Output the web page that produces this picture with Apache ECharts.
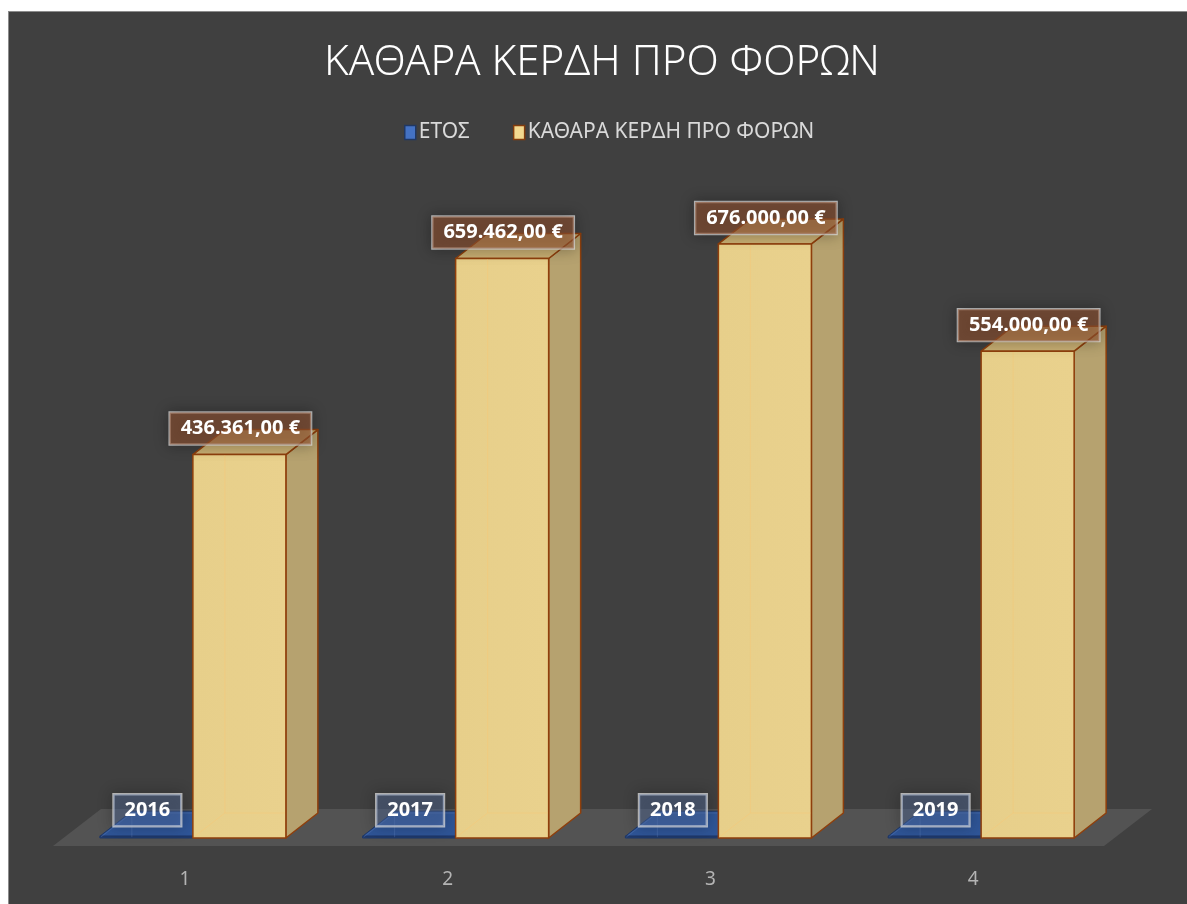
<!DOCTYPE html>
<html>
<head>
<meta charset="utf-8">
<script src="https://cdn.jsdelivr.net/npm/echarts@6/dist/echarts.min.js"></script>
<style>
  html, body { margin: 0; padding: 0; background: #ffffff; }
  #chart {
    position: absolute; left: 8px; top: 11px; width: 1179px; height: 893px;
    box-sizing: border-box; border-left: 1px solid #8c8c8c; border-top: 1px solid #8c8c8c;
    background: #404040;
  }
</style>
</head>
<body>
<div id="chart"></div>
<script>
// Chart data
const titleText = 'ΚΑΘΑΡΑ ΚΕΡΔΗ ΠΡΟ ΦΟΡΩΝ';
const seriesNames = ['ΕΤΟΣ', 'ΚΑΘΑΡΑ ΚΕΡΔΗ ΠΡΟ ΦΟΡΩΝ'];
const categories = ['1', '2', '3', '4'];
const years = [2016, 2017, 2018, 2019];
const profits = [436361, 659462, 676000, 554000];
const valueMin = 0;
const valueMax = 800000;

// Greek-style number format: 436.361,00 €
function euro(v) {
  const parts = v.toFixed(2).split('.');
  const intPart = parts[0].replace(/\B(?=(\d{3})+(?!\d))/g, '.');
  return intPart + ',' + parts[1] + ' €';
}

const FONT = '"Noto Sans", "Open Sans", sans-serif';
const DX = 32, DY = -25;          // bar depth offset (pseudo-3D)
const FLOOR_DX = 48, FLOOR_DY = -37;

const styles = [
  { // years: flat blue plates
    front: '#203c72', side: '#1d3564', top: '#2f5597', edge: '#1f3868',
    hidden: 'rgba(120,150,210,0.25)',
    labelBg: 'rgba(95,125,185,0.35)', text: String
  },
  { // profits: gold columns
    front: { type: 'linear', x: 0, y: 0, x2: 1, y2: 0,
             colorStops: [{ offset: 0, color: '#e7cf8a' }, { offset: 1, color: '#e9d18d' }] },
    side: '#b6a26f', top: '#c7ae72', edge: '#8f3f0c',
    hidden: 'rgba(245,200,120,0.55)',
    labelBg: 'rgba(150,85,50,0.58)', text: euro
  }
];

function makeRender(si) {
  const st = styles[si];
  const side = si === 0 ? -1 : 0;
  return function (params, api) {
    const idx = api.value(0);
    const val = api.value(1);
    const base = api.coord([idx, 0]);
    const topPt = api.coord([idx, val]);
    const band = api.size([1, 0])[0];
    const w = band * 0.354;
    const x0 = base[0] + side * w;
    const x1 = x0 + w;
    const yb = base[1];
    const yt = Math.min(topPt[1], yb - 1.8);
    const lw = si === 0 ? 1 : 1.5;
    const children = [
      { type: 'polygon', shape: { points: [[x1, yt], [x1 + DX, yt + DY], [x1 + DX, yb + DY], [x1, yb]] },
        style: { fill: st.side, stroke: st.edge, lineWidth: lw, lineJoin: 'round' } },
      { type: 'polygon', shape: { points: [[x0, yt], [x0 + DX, yt + DY], [x1 + DX, yt + DY], [x1, yt]] },
        style: { fill: st.top, stroke: st.edge, lineWidth: lw, lineJoin: 'round' } },
      { type: 'polygon', shape: { points: [[x0, yt], [x1, yt], [x1, yb], [x0, yb]] },
        style: { fill: st.front, stroke: st.edge, lineWidth: lw, lineJoin: 'round' } },
      // edges seen through the slightly translucent faces
      { type: 'polyline', shape: { points: [[x0 + 1, yb - 1], [x0 + DX, yb + DY], [x1 - 1, yb + DY]] },
        style: { fill: null, stroke: st.hidden, lineWidth: 1 } },
      { type: 'line', shape: { x1: x0 + DX, y1: yb + DY, x2: x0 + DX, y2: yt + 1 },
        style: { stroke: st.hidden, lineWidth: 1 } },
      { type: 'text', z2: 100,
        x: x0 + w / 2 + 1, y: yt - 26,
        style: {
          text: st.text(val), fill: '#ffffff', font: 'bold 20px ' + FONT,
          align: 'center', verticalAlign: 'middle',
          backgroundColor: st.labelBg, borderColor: 'rgba(230,230,230,0.75)', borderWidth: 1.2,
          padding: [6, 11, 6, 11],
          shadowBlur: 14, shadowColor: 'rgba(0,0,0,0.45)'
        } }
    ];
    return { type: 'group', children: children };
  };
}

// Grey floor under the columns, spanning the plot width
function renderFloor(params) {
  const cs = params.coordSys;
  const fx = cs.x - 8.5, fy = cs.y + cs.height + 8, fw = cs.width;
  return {
    type: 'polygon',
    shape: { points: [[fx, fy], [fx + fw, fy], [fx + fw + FLOOR_DX, fy + FLOOR_DY], [fx + FLOOR_DX, fy + FLOOR_DY]] },
    style: { fill: '#535353' }, silent: true
  };
}

const chart = echarts.init(document.getElementById('chart'), null, { renderer: 'canvas' });
chart.setOption({
  backgroundColor: '#404040',
  animation: false,
  title: {
    text: titleText, left: 315, top: 30, padding: 0,
    textStyle: { color: '#ffffff', fontFamily: FONT, fontWeight: 300, fontSize: 42 }
  },
  legend: {
    top: 110, left: 395, padding: 0,
    icon: 'rect', itemWidth: 11, itemHeight: 14, itemGap: 43,
    textStyle: { color: '#d9d9d9', fontFamily: FONT, fontSize: 21, padding: [0, 0, 0, -2] },
    data: [
      { name: seriesNames[0], itemStyle: { color: '#4472c4', borderColor: '#203864', borderWidth: 1.5 } },
      { name: seriesNames[1], itemStyle: { color: '#f3d98f', borderColor: '#843c0c', borderWidth: 1.5 } }
    ]
  },
  grid: { left: 52.5, right: 74.5, top: 123, bottom: 66, containLabel: false },
  xAxis: {
    type: 'category', data: categories,
    axisLine: { show: false }, axisTick: { show: false },
    axisLabel: { color: '#b4b4b4', fontFamily: FONT, fontSize: 19, margin: 32, padding: [0, 16, 0, 0] }
  },
  yAxis: {
    type: 'value', min: valueMin, max: valueMax, show: false, splitLine: { show: false }
  },
  series: [
    { type: 'custom', name: 'floor', renderItem: renderFloor, data: [[0, 0]], z: 1, silent: true },
    { type: 'custom', name: seriesNames[0], renderItem: makeRender(0), z: 2,
      itemStyle: { color: '#4472c4' },
      encode: { x: 0, y: 1 }, data: years.map((v, i) => [i, v]) },
    { type: 'custom', name: seriesNames[1], renderItem: makeRender(1), z: 3,
      itemStyle: { color: '#f3d98f' },
      encode: { x: 0, y: 1 }, data: profits.map((v, i) => [i, v]) }
  ]
});
</script>
</body>
</html>
